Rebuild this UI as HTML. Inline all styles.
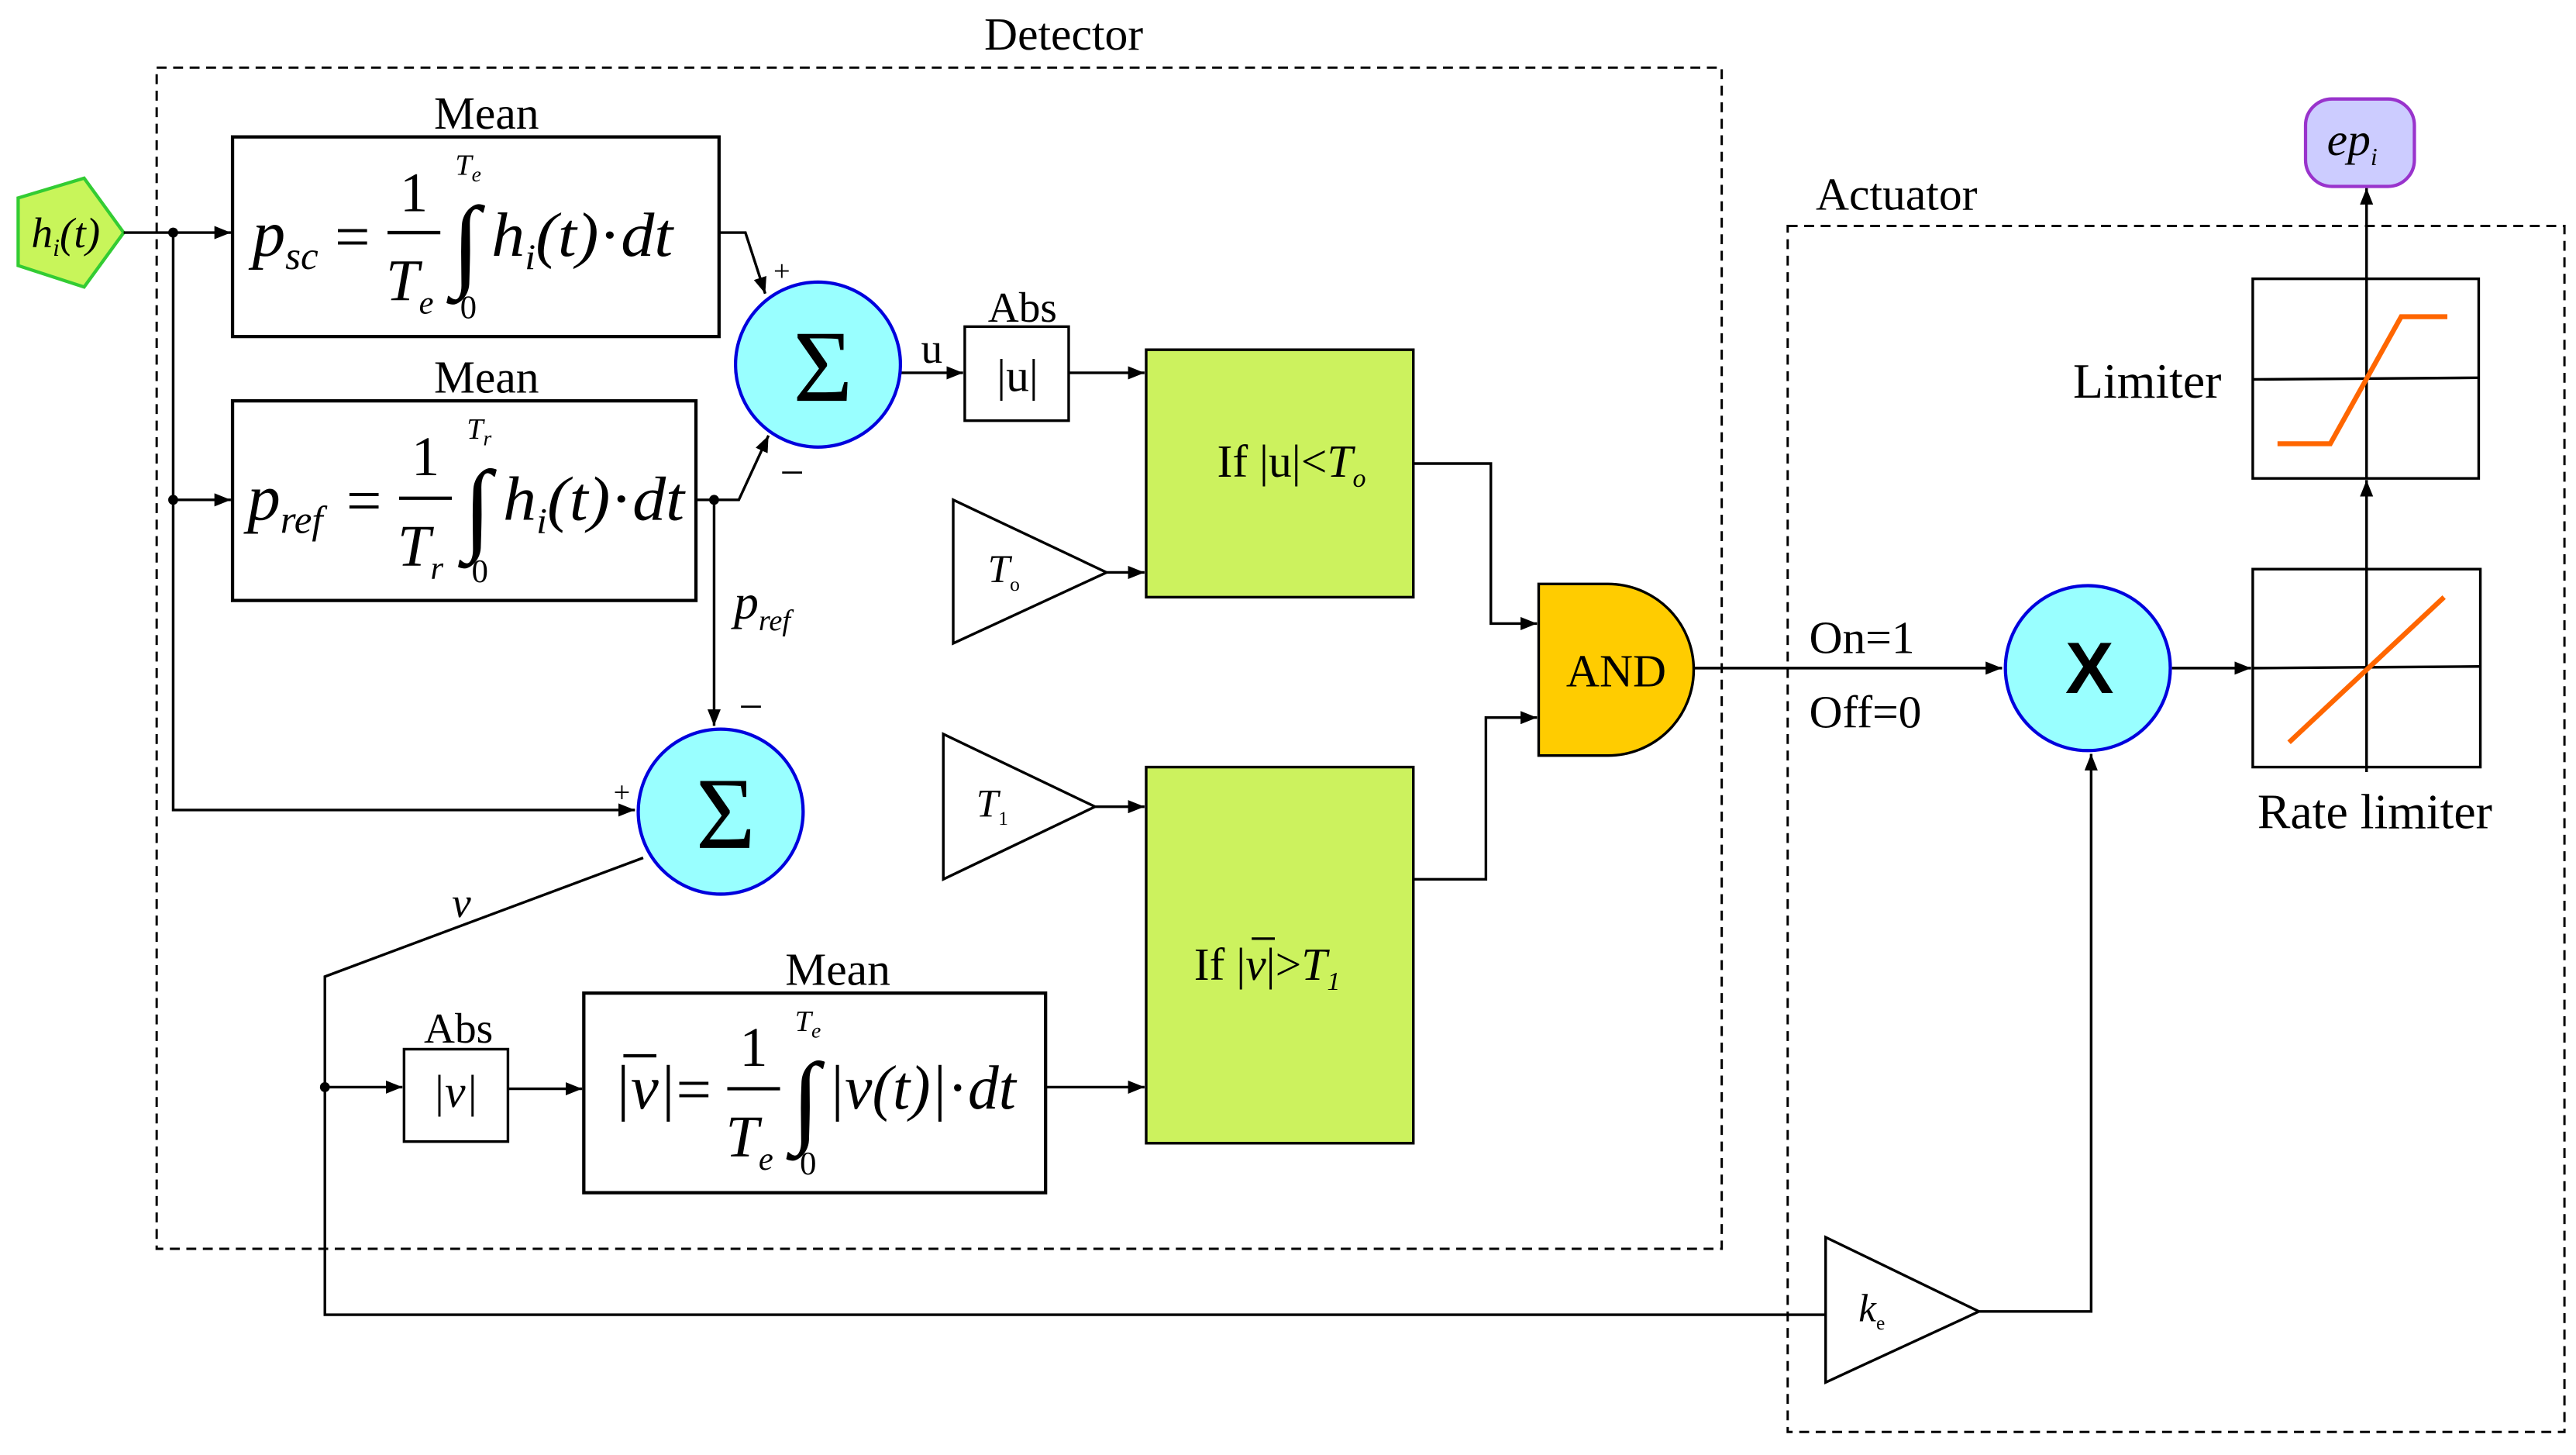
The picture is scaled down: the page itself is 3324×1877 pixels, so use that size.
<!DOCTYPE html>
<html><head><meta charset="utf-8"><style>
html,body{margin:0;padding:0;background:#fff;}
svg{display:block;}
text{font-family:"Liberation Serif",serif;fill:#000;}
.it{font-style:italic;}
.n{font-style:normal;}
</style></head><body>
<svg width="3324" height="1877" viewBox="0 0 1562 882" preserveAspectRatio="none" xmlns="http://www.w3.org/2000/svg">
<defs>
<marker id="a" markerWidth="10" markerHeight="8" refX="10" refY="4" orient="auto" markerUnits="userSpaceOnUse"><path d="M0,0 L10,4 L0,8 z" fill="#000"/></marker>
</defs>
<g fill="none" stroke="#000" stroke-width="1.6">
<rect x="95" y="41" width="949" height="716" stroke-dasharray="6,4" stroke-width="1.4"/>
<rect x="1084" y="137" width="471" height="731" stroke-dasharray="6,4" stroke-width="1.4"/>
</g>
<text x="645" y="30" font-size="28" text-anchor="middle">Detector</text>
<text x="1150" y="127" font-size="28" text-anchor="middle">Actuator</text>

<polygon points="11,120 51,108 75,141 51,174 11,161" fill="#c8f55a" stroke="#33cc33" stroke-width="2"/>
<text x="19" y="150" font-size="26" class="it">h<tspan font-size="15" dy="5">i</tspan><tspan dy="-5">(t)</tspan></text>

<g fill="none" stroke="#000" stroke-width="1.6">
<line x1="75" y1="141" x2="140" y2="141" marker-end="url(#a)"/>
<polyline points="105,141 105,491 385,491" marker-end="url(#a)"/>
<line x1="105" y1="303" x2="140" y2="303" marker-end="url(#a)"/>
<rect x="141" y="83" width="295" height="121" stroke-width="2"/>
<rect x="141" y="243" width="281" height="121" stroke-width="2"/>
<polyline points="436,141 452,141 464,178" marker-end="url(#a)"/>
<polyline points="422,303 448,303 466,264" marker-end="url(#a)"/>
<line x1="433" y1="303" x2="433" y2="440" marker-end="url(#a)"/>
<line x1="546" y1="226" x2="584" y2="226" marker-end="url(#a)"/>
<rect x="585" y="198" width="63" height="57"/>
<line x1="648" y1="226" x2="694" y2="226" marker-end="url(#a)"/>
<polygon points="578,303 578,390 671,347"/>
<line x1="671" y1="347" x2="694" y2="347" marker-end="url(#a)"/>
<polygon points="572,445 572,533 664,489"/>
<line x1="664" y1="489" x2="694" y2="489" marker-end="url(#a)"/>
<polyline points="857,281 904,281 904,378 932,378" marker-end="url(#a)"/>
<polyline points="857,533 901,533 901,435 932,435" marker-end="url(#a)"/>
<line x1="1026" y1="405" x2="1214" y2="405" marker-end="url(#a)"/>
<line x1="1317" y1="405" x2="1365" y2="405" marker-end="url(#a)"/>
<polyline points="390,520 197,592 197,797 1107,797"/>
<line x1="197" y1="659" x2="244" y2="659" marker-end="url(#a)"/>
<rect x="245" y="636" width="63" height="56"/>
<line x1="308" y1="660" x2="353" y2="660" marker-end="url(#a)"/>
<rect x="354" y="602" width="280" height="121" stroke-width="2"/>
<line x1="634" y1="659" x2="694" y2="659" marker-end="url(#a)"/>
<polygon points="1107,750 1107,838 1200,795"/>
<polyline points="1200,795 1268,795 1268,457" marker-end="url(#a)"/>
<rect x="1366" y="345" width="138" height="120"/>
<line x1="1366" y1="405" x2="1504" y2="404"/>
<line x1="1435" y1="345" x2="1435" y2="468"/>
<line x1="1435" y1="345" x2="1435" y2="291" marker-end="url(#a)"/>
<rect x="1366" y="169" width="137" height="121"/>
<line x1="1366" y1="230" x2="1503" y2="229"/>
<line x1="1435" y1="169" x2="1435" y2="290"/>
<line x1="1435" y1="169" x2="1435" y2="114" marker-end="url(#a)"/>
</g>
<g fill="#000"><circle cx="105" cy="141" r="3"/><circle cx="105" cy="303" r="3"/><circle cx="433" cy="303" r="3"/><circle cx="197" cy="659" r="3"/></g>

<polyline points="1381,269 1413,269 1456,192 1484,192" fill="none" stroke="#ff6600" stroke-width="3"/>
<line x1="1388" y1="450" x2="1482" y2="362" stroke="#ff6600" stroke-width="3"/>

<rect x="695" y="212" width="162" height="150" fill="#ccf25e" stroke="#000" stroke-width="1.6"/>
<rect x="695" y="465" width="162" height="228" fill="#ccf25e" stroke="#000" stroke-width="1.6"/>
<path d="M933,354 H975 A52,52 0 0 1 975,458 H933 Z" fill="#ffcc00" stroke="#000" stroke-width="1.6"/>
<text x="980" y="416" font-size="28" text-anchor="middle">AND</text>

<circle cx="496" cy="221" r="50" fill="#99ffff" stroke="#0000dd" stroke-width="2"/>
<circle cx="437" cy="492" r="50" fill="#99ffff" stroke="#0000dd" stroke-width="2"/>
<circle cx="1266" cy="405" r="50" fill="#99ffff" stroke="#0000dd" stroke-width="2"/>
<text x="499" y="243" font-size="62" text-anchor="middle">Σ</text>
<text x="440" y="514" font-size="62" text-anchor="middle">Σ</text>
<text x="1267" y="420" font-size="44" font-weight="bold" text-anchor="middle" style="font-family:'Liberation Sans',sans-serif">X</text>

<rect x="1398" y="60" width="66" height="53" rx="16" fill="#ccccff" stroke="#9933cc" stroke-width="2"/>
<text x="1411" y="94" font-size="28" class="it">ep<tspan font-size="15" dy="6">i</tspan></text>

<text x="295" y="78" font-size="28" text-anchor="middle">Mean</text>
<text x="295" y="238" font-size="28" text-anchor="middle">Mean</text>
<text x="508" y="597" font-size="28" text-anchor="middle">Mean</text>
<text x="620" y="195" font-size="26" text-anchor="middle">Abs</text>
<text x="278" y="632" font-size="26" text-anchor="middle">Abs</text>
<text x="617" y="237" font-size="28" text-anchor="middle">|u|</text>
<text x="276" y="671" font-size="28" text-anchor="middle" class="it">|v|</text>
<text x="565" y="220" font-size="26" text-anchor="middle">u</text>
<text x="469" y="170" font-size="18">+</text>
<text x="473" y="295" font-size="26">−</text>
<text x="448" y="437" font-size="26">−</text>
<text x="372" y="486" font-size="18">+</text>
<text x="445" y="375" font-size="30" class="it">p<tspan font-size="18" dy="7">ref</tspan></text>
<text x="274" y="556" font-size="26" class="it">v</text>
<text x="738" y="289" font-size="28">If |u|&lt;<tspan class="it">T<tspan font-size="16" dy="6">o</tspan></tspan></text>
<text x="724" y="594" font-size="28">If |<tspan class="it">v</tspan>|&gt;<tspan class="it">T<tspan font-size="16" dy="6">1</tspan></tspan></text>
<line x1="759" y1="569" x2="773" y2="569" stroke="#000" stroke-width="1.5"/>
<text x="599" y="353" font-size="24" class="it">T<tspan font-size="12" dy="5" class="n">o</tspan></text>
<text x="592" y="495" font-size="24" class="it">T<tspan font-size="12" dy="5" class="n">1</tspan></text>
<text x="1127" y="801" font-size="24" class="it">k<tspan font-size="12" dy="5" class="n">e</tspan></text>
<text x="1097" y="396" font-size="28">On=1</text>
<text x="1097" y="441" font-size="28">Off=0</text>
<text x="1302" y="241" font-size="30" text-anchor="middle">Limiter</text>
<text x="1440" y="502" font-size="30" text-anchor="middle">Rate limiter</text>

<!-- formula 1 -->
<text x="153" y="155" font-size="40" class="it">p<tspan font-size="24" dy="8">sc</tspan></text>
<text x="203" y="156" font-size="38">=</text>
<text x="251" y="128" font-size="34" text-anchor="middle">1</text>
<line x1="235" y1="141" x2="267" y2="141" stroke="#000" stroke-width="2"/>
<text x="234" y="182" font-size="36" class="it">T<tspan font-size="20" dy="8">e</tspan></text>
<text x="274" y="168" font-size="62" class="it">∫</text>
<text x="276" y="106" font-size="18" class="it">T<tspan font-size="13" dy="4">e</tspan></text>
<text x="279" y="193" font-size="20">0</text>
<text x="298" y="155" font-size="38" class="it" textLength="110" lengthAdjust="spacingAndGlyphs">h<tspan font-size="22" dy="8">i</tspan><tspan dy="-8">(t)</tspan><tspan class="n">·</tspan>dt</text>

<!-- formula 2 -->
<text x="150" y="315" font-size="40" class="it">p<tspan font-size="24" dy="8">ref</tspan></text>
<text x="210" y="316" font-size="38">=</text>
<text x="258" y="288" font-size="34" text-anchor="middle">1</text>
<line x1="242" y1="302" x2="274" y2="302" stroke="#000" stroke-width="2"/>
<text x="241" y="343" font-size="36" class="it">T<tspan font-size="20" dy="8">r</tspan></text>
<text x="281" y="328" font-size="62" class="it">∫</text>
<text x="283" y="266" font-size="18" class="it">T<tspan font-size="13" dy="4">r</tspan></text>
<text x="286" y="353" font-size="20">0</text>
<text x="305" y="315" font-size="38" class="it" textLength="110" lengthAdjust="spacingAndGlyphs">h<tspan font-size="22" dy="8">i</tspan><tspan dy="-8">(t)</tspan><tspan class="n">·</tspan>dt</text>

<!-- formula 3 -->
<text x="372" y="672" font-size="38" class="it">|v|</text>
<line x1="378" y1="640" x2="398" y2="640" stroke="#000" stroke-width="2"/>
<text x="410" y="673" font-size="38">=</text>
<text x="457" y="646" font-size="34" text-anchor="middle">1</text>
<line x1="441" y1="660" x2="473" y2="660" stroke="#000" stroke-width="2"/>
<text x="440" y="701" font-size="36" class="it">T<tspan font-size="20" dy="8">e</tspan></text>
<text x="480" y="687" font-size="62" class="it">∫</text>
<text x="482" y="625" font-size="18" class="it">T<tspan font-size="13" dy="4">e</tspan></text>
<text x="485" y="712" font-size="20">0</text>
<text x="502" y="672" font-size="38" class="it" textLength="114" lengthAdjust="spacingAndGlyphs">|v(t)|<tspan class="n">·</tspan>dt</text>
</svg>
</body></html>
